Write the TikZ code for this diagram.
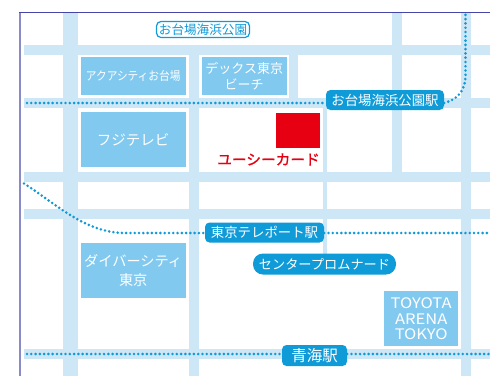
\documentclass[tikz,border=0pt]{standalone}
\usepackage{fontspec}
\setmainfont{Noto Sans CJK JP}
\newfontfamily\ucfont[FakeBold=1.2]{Noto Sans CJK JP}
\definecolor{road}{HTML}{CDE7F6}
\definecolor{bldg}{HTML}{82C9F0}
\definecolor{rail}{HTML}{0F9AD8}
\definecolor{mark}{HTML}{E60012}
\definecolor{frameleft}{HTML}{8A8AC8}
\definecolor{frametop}{HTML}{4646AA}
\tikzset{
  roadfill/.style={fill=road,draw=none},
  bldgbox/.style={fill=bldg,draw=none,text=white,align=center,inner sep=0pt,anchor=north west},
  station/.style={fill=rail,draw=none,text=white,rounded corners=4.5pt,inner sep=0pt,font=\fontsize{13.4}{15}\selectfont},
  railline/.style={draw=rail,line width=2.9pt,line cap=round,dash pattern=on 0pt off 4.28pt},
}
\begin{document}
\begin{tikzpicture}[x=1pt,y=-1pt]
\useasboundingbox (0,0) rectangle (490,376);
\fill[white] (0,0) rectangle (490,376);
% roads
\foreach \a/\b in {63/78,461/471}{\fill[roadfill] (\a,13) rectangle (\b,376);}
\fill[roadfill] (392,13) rectangle (402,182);
\fill[roadfill] (189,45) rectangle (199,376);
\fill[roadfill] (288.5,45) rectangle (298,108);
\fill[roadfill] (323,108) rectangle (327,255);
\foreach \a/\b in {45/55,98/108,172/182,209/219,349/359}{\fill[roadfill] (24,\a) rectangle (490,\b);}
% frame
\draw[draw=frameleft,line width=2.4pt] (20,13) -- (20,376);
\draw[draw=frametop,line width=1pt] (19,12.5) -- (490,12.5);
% buildings
\node[bldgbox,minimum width=105pt,minimum height=38pt,font=\fontsize{12}{14}\selectfont] (aqua) at (80.5,57) {\scalebox{0.89}[1]{アクアシティお台場}};
\node[bldgbox,minimum width=85pt,minimum height=38pt,font=\fontsize{13}{15.5}\selectfont] (deck) at (201.5,57) {デックス東京\\ビーチ};
\node[bldgbox,minimum width=105pt,minimum height=55pt,font=\fontsize{14.5}{17}\selectfont] (fuji) at (80.5,112) {フジテレビ};
\node[bldgbox,minimum width=105pt,minimum height=55pt,font=\fontsize{14.2}{18.5}\selectfont] (diver) at (80.5,243) {ダイバーシティ\\東京};
\node[bldgbox,minimum width=74pt,minimum height=55pt,font=\fontsize{14.5}{15.5}\selectfont] (toyota) at (384,291) {\scalebox{1.14}[1]{TOYOTA}\\\scalebox{1.14}[1]{ARENA}\\\scalebox{1.14}[1]{TOKYO}};
% mark
\node[fill=mark,draw=none,minimum width=44pt,minimum height=35pt,inner sep=0pt,anchor=north west] (ucbox) at (276,113) {};
\node[text=mark,inner sep=0pt,font=\fontsize{14.7}{16}\ucfont,anchor=east] (uc) at (320,159.5) {ユーシーカード};
% labels
\node[fill=white,draw=rail,line width=1.2pt,text=rail,rounded corners=4.5pt,inner sep=0pt,minimum width=93pt,minimum height=16pt,font=\fontsize{12.6}{14}\selectfont] (park) at (203,29.5) {お台場海浜公園};
\node[station,minimum width=118pt,minimum height=20pt] (odaiba) at (385,100) {お台場海浜公園駅};
\node[station,minimum width=119pt,minimum height=20pt] (tele) at (264.5,232.5) {東京テレポート駅};
\node[station,rounded corners=10pt,minimum width=143pt,minimum height=21pt,font=\fontsize{13.2}{15}\selectfont] (prom) at (324.5,264) {センタープロムナード};
\node[station,minimum width=65pt,minimum height=21pt,font=\fontsize{15.5}{17}\selectfont] (aomi) at (314.5,355.5) {青海駅};
% rail endpoints
\coordinate (a1) at (27,103);
\coordinate (a2) at (465.5,13);
\coordinate (t1) at (24,183.5);
\coordinate (t2) at (490,233);
\coordinate (o1) at (27,354);
\coordinate (o2) at (490,354);
% rails
\path[railline] (a1) -- (odaiba.west |- a1);
\path[railline] (odaiba.east |- a1) .. controls (455,100) and (465.5,93) .. (465.5,75) -- (a2);
\path[railline] (t1) .. controls (55,203) and (85,233) .. (125,233) -- (tele.west |- t2);
\path[railline] (tele.east |- t2) -- (t2);
\path[railline] (o1) -- (aomi.west |- o1);
\path[railline] (aomi.east |- o1) -- (o2);
\end{tikzpicture}
\end{document}
